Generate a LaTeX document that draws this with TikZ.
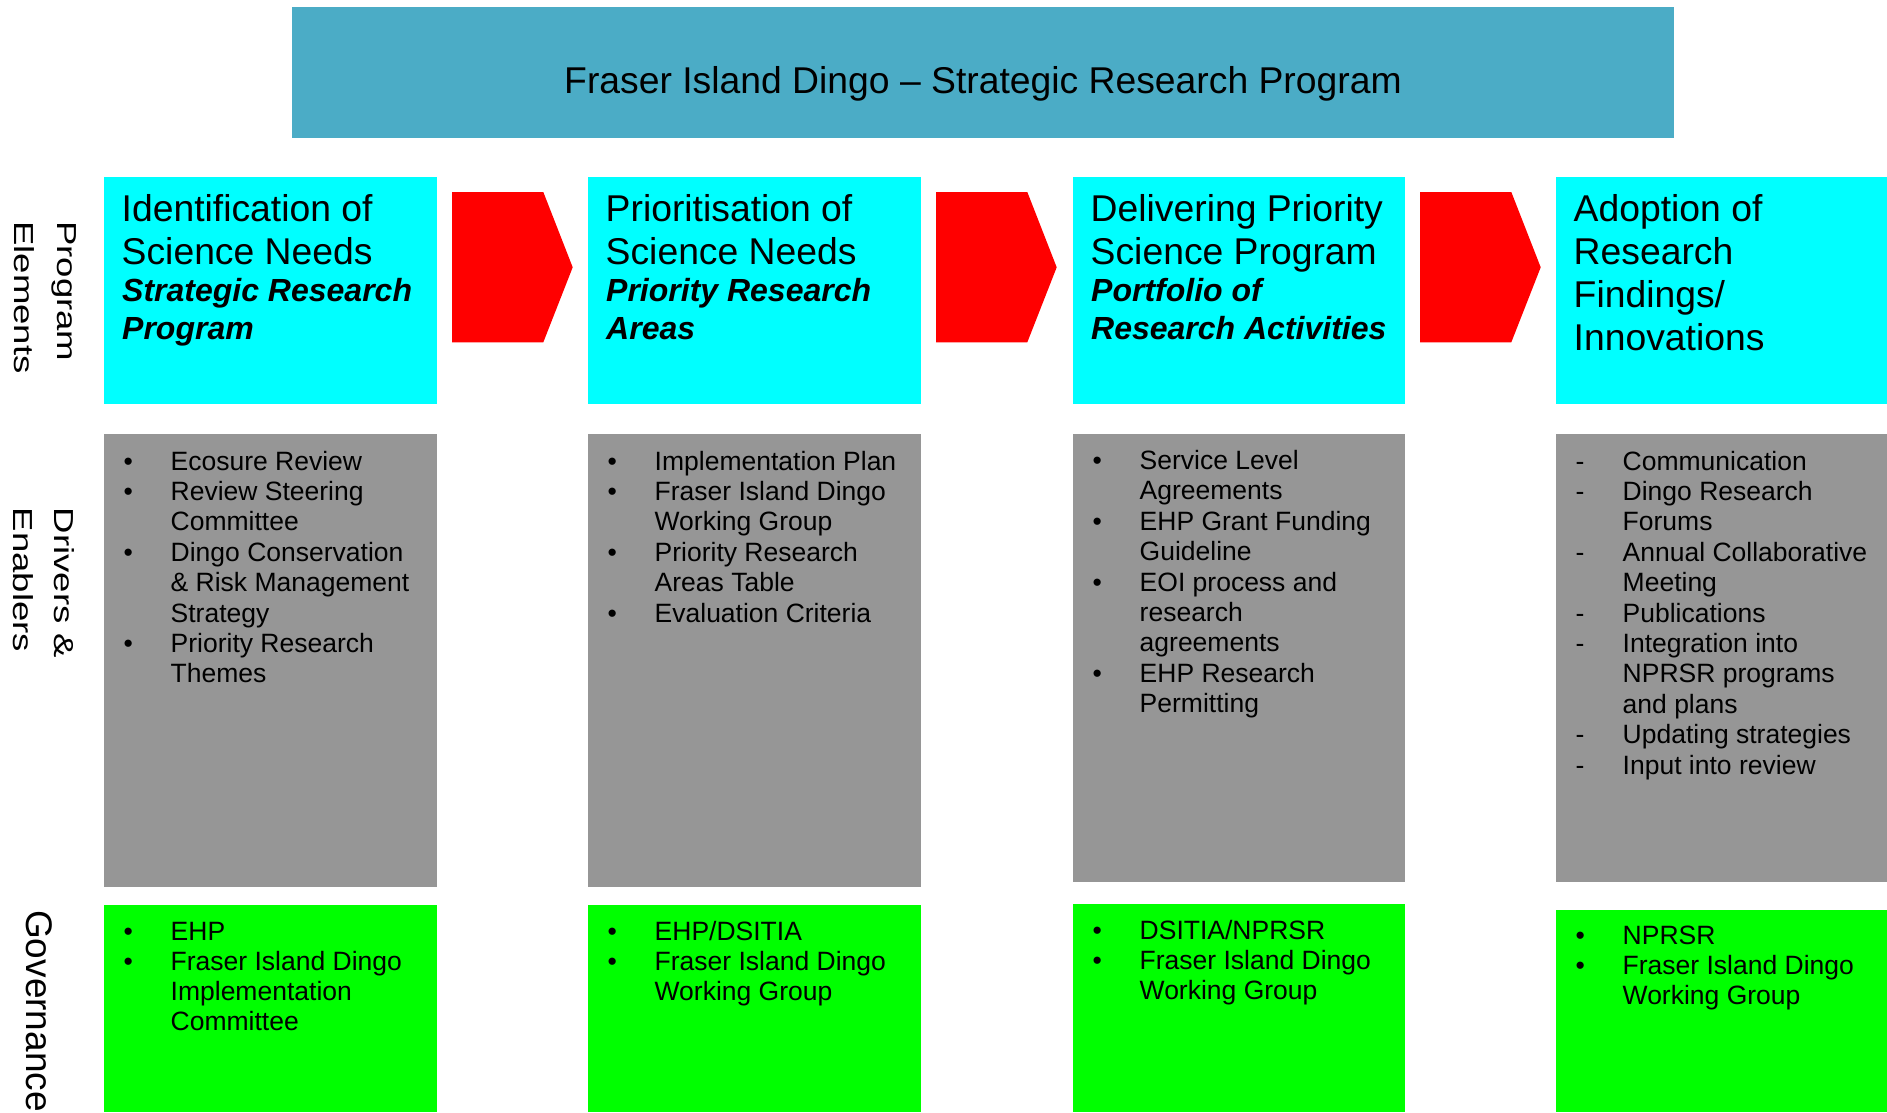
\documentclass[tikz,border=0pt]{standalone}
\usepackage{fontspec}
\setmainfont{Liberation Sans}
\usepackage{graphicx}
\definecolor{titleblue}{HTML}{4BACC6}
\definecolor{cyanbox}{HTML}{00FFFF}
\definecolor{greybox}{HTML}{969696}
\definecolor{greenbox}{HTML}{00FF00}
\definecolor{redarrow}{HTML}{FF0000}
\tikzset{
  panel/.style={draw=none, inner sep=0pt, outer sep=0pt, anchor=north west},
  titletext/.style={inner sep=0pt, anchor=base, font=\fontsize{37.3}{43}\selectfont},
  headtext/.style={inner sep=0pt, anchor=base west, font=\fontsize{37.3}{43}\selectfont},
  subtext/.style={inner sep=0pt, anchor=base west, font=\fontsize{32}{37}\selectfont\bfseries\itshape},
  listtext/.style={inner sep=0pt, anchor=base west, font=\fontsize{26.5}{30.4}\selectfont},
  rowlabel/.style={inner sep=0pt, anchor=base west, rotate=-90, font=\fontsize{27.5}{32}\selectfont},
  govlabel/.style={inner sep=0pt, anchor=base west, rotate=-90, font=\fontsize{37}{43}\selectfont},
}
% #1 prefix, #2 box left x, #3 first baseline, #4 line step, #5 marker, #6 list flag/text
\newcommand\drawlist[6]{%
  \foreach \f/\t [count=\i] in {#6} {
    \node[listtext] (#1-\i) at ({#2+66.5},{#3+(\i-1)*#4}) {\t};
    \ifnum\f=1 \node[listtext] (#1-m\i) at ({#2+19.5},{#3+(\i-1)*#4}) {#5};\fi
  }}
\newcommand\redchevron[1]{%
  \fill[redarrow] (#1,192) -- ({#1+91.3},192) -- ({#1+120.7},267.3) -- ({#1+91.3},342.3) -- (#1,342.3) -- cycle;}
\begin{document}
\begin{tikzpicture}[x=1pt,y=-1pt]
\fill[white] (0,0) rectangle (1887,1113);
\useasboundingbox (0,0) rectangle (1887,1113);

% title
\node[panel, fill=titleblue, minimum width=1382pt, minimum height=131.5pt] (title) at (292,7) {};
\node[titletext] (titletxt) at (983,94) {Fraser Island Dingo – Strategic Research Program};

% row labels
\node[rowlabel] (lab-pe1) at (57,221) {\scalebox{1.33}[1]{Program}};
\node[rowlabel] (lab-pe2) at (14,221) {\scalebox{1.33}[1]{Elements}};
\node[rowlabel] (lab-de1) at (54.5,507.5) {\scalebox{1.33}[1]{Drivers \&}};
\node[rowlabel] (lab-de2) at (13.5,507.5) {\scalebox{1.33}[1]{Enablers}};
\node[govlabel] (lab-gov) at (26.5,910) {Governance};

% program element boxes
\node[panel, fill=cyanbox, minimum width=333pt, minimum height=226.5pt] (pe1) at (104,177) {};
\node[panel, fill=cyanbox, minimum width=333pt, minimum height=226.5pt] (pe2) at (588,177) {};
\node[panel, fill=cyanbox, minimum width=332pt, minimum height=226.5pt] (pe3) at (1073,177) {};
\node[panel, fill=cyanbox, minimum width=331pt, minimum height=226.5pt] (pe4) at (1556,177) {};

\node[headtext] (pe1-a) at (121.5,221) {Identification of};
\node[headtext] (pe1-b) at (121.5,264) {Science Needs};
\node[subtext]  (pe1-c) at (122,301) {Strategic Research};
\node[subtext]  (pe1-d) at (122,339) {Program};

\node[headtext] (pe2-a) at (605.5,221) {Prioritisation of};
\node[headtext] (pe2-b) at (605.5,264) {Science Needs};
\node[subtext]  (pe2-c) at (606,301) {Priority Research};
\node[subtext]  (pe2-d) at (606,339) {Areas};

\node[headtext] (pe3-a) at (1090.5,221) {Delivering Priority};
\node[headtext] (pe3-b) at (1090.5,264) {Science Program};
\node[subtext]  (pe3-c) at (1091,301) {Portfolio of};
\node[subtext]  (pe3-d) at (1091,339) {Research Activities};

\node[headtext] (pe4-a) at (1573.5,221) {Adoption of};
\node[headtext] (pe4-b) at (1573.5,264) {Research};
\node[headtext] (pe4-c) at (1573.5,307) {Findings/};
\node[headtext] (pe4-d) at (1573.5,350) {Innovations};

% red chevrons between program elements
\redchevron{452}
\redchevron{936}
\redchevron{1420}

% drivers and enablers
\node[panel, fill=greybox, minimum width=333pt, minimum height=453pt] (de1) at (104,434) {};
\node[panel, fill=greybox, minimum width=333pt, minimum height=453pt] (de2) at (588,434) {};
\node[panel, fill=greybox, minimum width=332pt, minimum height=448pt] (de3) at (1073,434) {};
\node[panel, fill=greybox, minimum width=331pt, minimum height=448pt] (de4) at (1556,434) {};

\drawlist{de1l}{104}{470}{30.4}{•}{1/{Ecosure Review},1/{Review Steering},0/{Committee},1/{Dingo Conservation},0/{\& Risk Management},0/{Strategy},1/{Priority Research},0/{Themes}}
\drawlist{de2l}{588}{470}{30.4}{•}{1/{Implementation Plan},1/{Fraser Island Dingo},0/{Working Group},1/{Priority Research},0/{Areas Table},1/{Evaluation Criteria}}
\drawlist{de3l}{1073}{469.5}{30.4}{•}{1/{Service Level},0/{Agreements},1/{EHP Grant Funding},0/{Guideline},1/{EOI process and},0/{research},0/{agreements},1/{EHP Research},0/{Permitting}}
\drawlist{de4l}{1556}{470}{30.4}{-}{1/{Communication},1/{Dingo Research},0/{Forums},1/{Annual Collaborative},0/{Meeting},1/{Publications},1/{Integration into},0/{NPRSR programs},0/{and plans},1/{Updating strategies},1/{Input into review}}

% governance
\node[panel, fill=greenbox, minimum width=333pt, minimum height=207pt] (gv1) at (104,905) {};
\node[panel, fill=greenbox, minimum width=333pt, minimum height=207pt] (gv2) at (588,905) {};
\node[panel, fill=greenbox, minimum width=332pt, minimum height=208pt] (gv3) at (1073,904) {};
\node[panel, fill=greenbox, minimum width=331pt, minimum height=202pt] (gv4) at (1556,910) {};

\drawlist{gv1l}{104}{940}{30.2}{•}{1/{EHP},1/{Fraser Island Dingo},0/{Implementation},0/{Committee}}
\drawlist{gv2l}{588}{940}{30.2}{•}{1/{EHP/DSITIA},1/{Fraser Island Dingo},0/{Working Group}}
\drawlist{gv3l}{1073}{939}{30.2}{•}{1/{DSITIA/NPRSR},1/{Fraser Island Dingo},0/{Working Group}}
\drawlist{gv4l}{1556}{944.5}{30.2}{•}{1/{NPRSR},1/{Fraser Island Dingo},0/{Working Group}}
\end{tikzpicture}
\end{document}
